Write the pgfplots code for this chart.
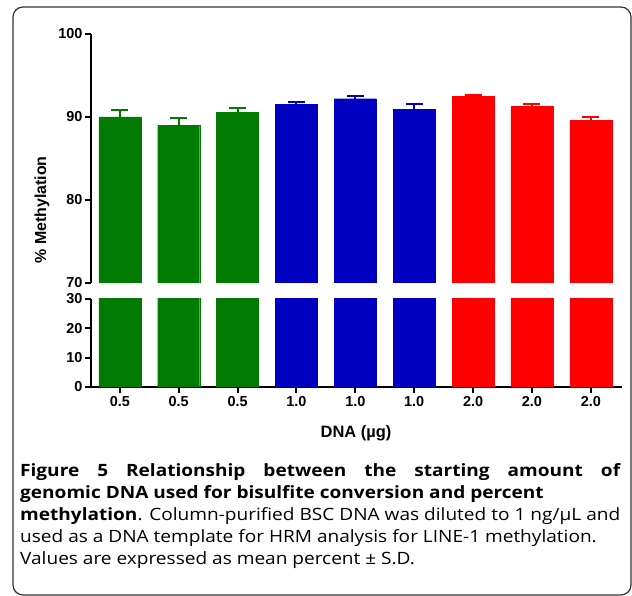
\documentclass[border=0pt]{standalone}
\usepackage{pgfplots}
\usepackage{pgfplotstable}
\pgfplotsset{compat=1.18}
\usepackage{fontspec}
\setmainfont{Liberation Sans}
\newfontfamily\capfont[FakeStretch=1.125]{Open Sans}
\definecolor{grn}{RGB}{0,122,0}
\definecolor{blu}{RGB}{0,0,192}
\definecolor{rd}{RGB}{255,0,0}

\pgfplotstableread{
x y e
0 90.0 0.8
1 89.0 0.9
2 90.55 0.5
}\tgreen
\pgfplotstableread{
x y e
3 91.5 0.3
4 92.2 0.3
5 90.9 0.7
}\tblue
\pgfplotstableread{
x y e
6 92.45 0.25
7 91.25 0.35
8 89.6 0.4
}\tred

\pgfplotsset{
  brk/.style={
    scale only axis, anchor=south west,
    width=531bp,
    xmin=-0.49, xmax=8.53,
    ybar, bar width=42bp, bar shift=0pt,
    axis line style={-, line width=2.4bp, black},
    tick style={line width=2bp, black},
    major tick length=6bp,
    /pgf/number format/assume math mode=true,
    ticklabel style={font=\bfseries\fontsize{14.5}{14.5}\selectfont},
    yticklabel style={xshift=1bp},
  },
  ebar/.style={error bars/.cd, y dir=plus, y explicit,
    error bar style={line width=2bp, draw=#1},
    error mark options={rotate=90, mark size=8.5bp, line width=2bp, draw=#1}},
}

\begin{document}
\begin{tikzpicture}[x=1bp,y=1bp]
\useasboundingbox (0,0) rectangle (632,596);
\draw[line width=1.2bp, black!80, rounded corners=10bp] (13,1) rectangle (631,589);

% upper axis 70-100
\begin{axis}[brk, at={(91bp,313bp)}, height=249bp,
  ymin=70, ymax=100, ytick={70,80,90,100},
  axis y line*=left, axis x line=none, tick align=outside]
\addplot[fill=grn, draw=grn, ebar=grn] table[x=x,y=y,y error=e]{\tgreen};
\addplot[fill=blu, draw=blu, ebar=blu] table[x=x,y=y,y error=e]{\tblue};
\addplot[fill=rd, draw=rd, ebar=rd] table[x=x,y=y,y error=e]{\tred};
\end{axis}

% lower axis 0-30
\begin{axis}[brk, at={(91bp,209bp)}, height=88bp,
  ymin=0, ymax=30, ytick={0,10,20,30},
  axis y line*=left, axis x line*=bottom, tick align=outside,
  xtick={0,...,8},
  xticklabels={0.5,0.5,0.5,1.0,1.0,1.0,2.0,2.0,2.0}]
\addplot[fill=grn, draw=grn] table[x=x,y=y]{\tgreen};
\addplot[fill=blu, draw=blu] table[x=x,y=y]{\tblue};
\addplot[fill=rd, draw=rd] table[x=x,y=y]{\tred};
\end{axis}

\node[rotate=90, font=\bfseries\fontsize{16}{16}\selectfont] at (42,386) {\% Methylation};
\node[font=\bfseries\fontsize{16.5}{16.5}\selectfont] at (356,163) {DNA (µg)};

\begin{scope}[every node/.style={anchor=base west, inner sep=0pt, font=\capfont\fontsize{17}{20}\selectfont}]
\node at (20,119.3) {\makebox[600bp][s]{\bfseries Figure 5 Relationship between the starting amount of}};
\node at (20,97.4) {\bfseries genomic DNA used for bisulfite conversion and percent};
\node at (20,75.5) {\makebox[600bp][s]{\bfseries methylation\mdseries. Column-purified BSC DNA was diluted to 1 ng/µL and}};
\node at (20,53.6) {used as a DNA template for HRM analysis for LINE-1 methylation.};
\node at (20,31.7) {Values are expressed as mean percent ± S.D.};
\end{scope}
\end{tikzpicture}
\end{document}
